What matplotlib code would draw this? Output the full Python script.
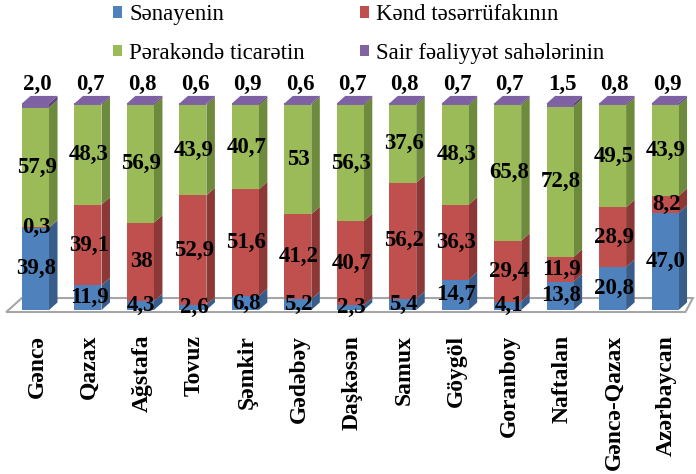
import matplotlib
matplotlib.use("Agg")
import matplotlib.pyplot as plt
from matplotlib.patches import Polygon, Patch
import numpy as np

plt.rcParams['font.family'] = ['Liberation Serif', 'DejaVu Serif']

regions = ["Gəncə", "Qazax", "Ağstafa", "Tovuz", "Şəmkir", "Gədəbəy", "Daşkəsən",
           "Samux", "Göygöl", "Goranboy", "Naftalan", "Gəncə-Qazax", "Azərbaycan"]

series_names = ["Sənayenin", "Kənd təsərrüfakının", "Pərakəndə ticarətin",
                "Sair fəaliyyət sahələrinin"]

senaye = [39.8, 11.9, 4.3, 2.6, 6.8, 5.2, 2.3, 5.4, 14.7, 4.1, 13.8, 20.8, 47.0]
kend = [0.3, 39.1, 38, 52.9, 51.6, 41.2, 40.7, 56.2, 36.3, 29.4, 11.9, 28.9, 8.2]
perakende = [57.9, 48.3, 56.9, 43.9, 40.7, 53, 56.3, 37.6, 48.3, 65.8, 72.8, 49.5, 43.9]
sair = [2.0, 0.7, 0.8, 0.6, 0.9, 0.6, 0.7, 0.8, 0.7, 0.7, 1.5, 0.8, 0.9]

# printed labels as they appear on the chart
senaye_lbl = ["39,8", "11,9", "4,3", "2,6", "6,8", "5,2", "2,3", "5,4", "14,7", "4,1", "13,8", "20,8", "47,0"]
kend_lbl = ["0,3", "39,1", "38", "52,9", "51,6", "41,2", "40,7", "56,2", "36,3", "29,4", "11,9", "28,9", "8,2"]
perakende_lbl = ["57,9", "48,3", "56,9", "43,9", "40,7", "53", "56,3", "37,6", "48,3", "65,8", "72,8", "49,5", "43,9"]
sair_lbl = ["2,0", "0,7", "0,8", "0,6", "0,9", "0,6", "0,7", "0,8", "0,7", "0,7", "1,5", "0,8", "0,9"]

front_colors = ['#4F81BD', '#C0504D', '#9BBB59', '#8064A2']
side_colors = ['#385D8A', '#8C3836', '#6E8A3C', '#5C4776']
top_color = '#7E61A2'

fig = plt.figure(figsize=(6.96, 4.74), dpi=100)
ax = fig.add_axes([0, 0, 1, 1])
ax.set_xlim(-0.677, 12.59)
ax.set_ylim(-79.4, 150.1)
ax.axis('off')

x = np.arange(len(regions))
w = 0.515     # front width of a bar
dx = 0.162    # depth offset, x units
dy = 3.66     # depth offset, y units

# floor of the 3D chart
floor = Polygon([(-0.56, -0.97), (12.39, -0.97), (12.53, 5.8), (-0.26, 5.8)],
                closed=True, facecolor='white', edgecolor='#A6A6A6', lw=1.5, zorder=1)
ax.add_patch(floor)

stack = [senaye, kend, perakende, sair]
labels = [senaye_lbl, kend_lbl, perakende_lbl, sair_lbl]
bottom = np.zeros(len(regions))
for k, vals in enumerate(stack):
    vals = np.array(vals, dtype=float)
    ax.bar(x, vals, width=w, bottom=bottom, color=front_colors[k], lw=0, zorder=3)
    for i in range(len(regions)):
        x1 = x[i] + w / 2
        y0, y1 = bottom[i], bottom[i] + vals[i]
        ax.add_patch(Polygon([(x1, y0), (x1 + dx, y0 + dy), (x1 + dx, y1 + dy), (x1, y1)],
                             closed=True, facecolor=side_colors[k], lw=0, zorder=2))
        if k < 3:
            ax.text(x[i] + 0.02, y0 + vals[i] / 2, labels[k][i], ha='center', va='center',
                    fontsize=16.5, fontweight='bold', zorder=5)
    bottom = bottom + vals

# top caps and the small "Sair" labels above them
for i in range(len(regions)):
    x0, x1 = x[i] - w / 2, x[i] + w / 2
    t = bottom[i]
    ax.add_patch(Polygon([(x0, t), (x1, t), (x1 + dx, t + dy), (x0 + dx, t + dy)],
                         closed=True, facecolor=top_color, lw=0, zorder=4))
    ax.text(x[i] + 0.04, t + 9.0, sair_lbl[i], ha='center', va='center',
            fontsize=16.5, fontweight='bold', zorder=5)

# category labels
for i, name in enumerate(regions):
    ax.text(x[i] + 0.03, -12.0, name, rotation=90, ha='center', va='top',
            fontsize=17, fontweight='bold')

# legend, filled column-wise
handles = [Patch(facecolor=front_colors[0]), Patch(facecolor=front_colors[2]),
           Patch(facecolor=front_colors[1]), Patch(facecolor=front_colors[3])]
names = [series_names[0], series_names[2], series_names[1], series_names[3]]
fig.legend(handles, names, ncol=2, loc='upper left', bbox_to_anchor=(113 / 696, 1 - 4 / 474),
           frameon=False, fontsize=16.5, handlelength=0.4, handleheight=0.4,
           handletextpad=0.3, columnspacing=2.4, labelspacing=0.78,
           borderpad=0, borderaxespad=0)

fig.savefig("out.png", dpi=100)
